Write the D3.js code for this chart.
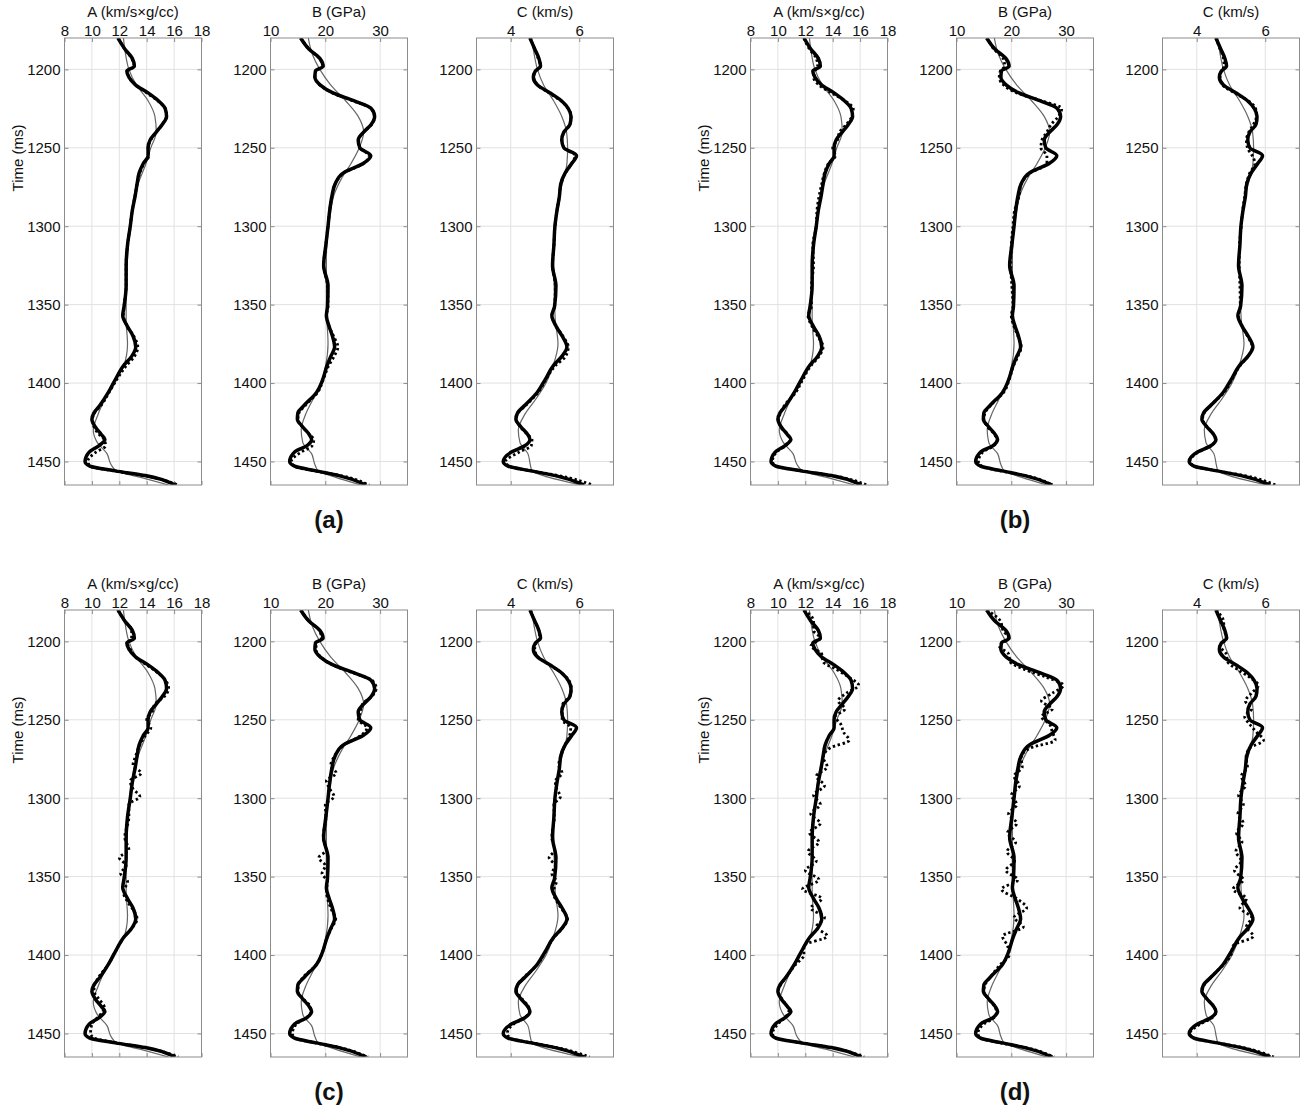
<!DOCTYPE html>
<html>
<head>
<meta charset="utf-8">
<script src="https://cdn.jsdelivr.net/npm/d3@7"></script>
<style>
  body { margin: 0; background: #fff; }
  svg text { font-family: "Liberation Sans", Arial, Helvetica, sans-serif; fill: #111; }
</style>
</head>
<body>
<svg id="chart" width="1307" height="1111"></svg>
<script>
// ---- axes ----
const timeDomain = [1180, 1465];
const timeTicks = [1200, 1250, 1300, 1350, 1400, 1450];
const domainA = [8, 18],  ticksA = [8, 10, 12, 14, 16, 18];
const domainB = [10, 35], ticksB = [10, 20, 30];
const domainC = [3, 7],   ticksC = [4, 6];
const titles = ["A (km/s×g/cc)", "B (GPa)", "C (km/s)"];
const groupLabels = ["(a)", "(b)", "(c)", "(d)"];

// ---- well log (reference) ----
const tTrue = [1180,1187,1193,1198,1201,1205,1210,1215,1220,1225,1230,1235,1240,1245,1250,1255,1260,1266,1273,1281,1290,1300,1312,1325,1338,1351,1357,1364,1370,1377,1383,1389,1398,1406,1414,1419,1423,1428,1433,1436,1440,1444,1450,1453,1456,1459,1465];
const trueA = [11.9,12.4,12.95,13.1,12.55,12.7,13.2,14.1,14.85,15.35,15.45,15.15,14.7,14.25,14.1,14.1,13.75,13.45,13.3,13.15,12.95,12.8,12.6,12.5,12.5,12.35,12.25,12.6,13.0,13.2,12.9,12.3,11.7,11.2,10.6,10.15,10.0,10.25,10.7,10.95,10.5,9.8,9.5,9.85,11.7,13.9,16.1];
const trueB = [15.5,17.0,19.0,19.6,18.2,18.1,19.1,21.4,25.2,28.4,29.0,28.4,27.0,26.0,26.3,28.3,26.9,23.3,21.8,21.2,20.8,20.5,20.1,19.7,20.5,20.4,20.2,20.7,21.3,21.7,21.0,20.3,19.5,18.4,16.2,15.0,14.9,15.9,17.1,17.5,16.6,14.4,13.5,14.4,18.3,22.5,27.5];
const trueC = [4.56,4.70,4.82,4.87,4.72,4.66,4.78,5.15,5.48,5.68,5.76,5.73,5.55,5.49,5.55,5.92,5.78,5.59,5.46,5.42,5.35,5.29,5.26,5.22,5.32,5.28,5.2,5.33,5.5,5.64,5.49,5.24,5.0,4.77,4.42,4.2,4.15,4.3,4.5,4.56,4.41,4.02,3.78,3.92,4.6,5.3,6.15];

// ---- initial (low-frequency) model ----
const tInit = [1180,1190,1200,1210,1220,1230,1240,1250,1260,1270,1280,1290,1300,1320,1340,1360,1375,1390,1400,1410,1420,1430,1438,1445,1452,1456,1460,1465];
const initA = [12.3,12.45,12.7,13.25,14.1,14.6,14.7,14.3,13.95,13.5,13.1,12.9,12.75,12.6,12.5,12.5,12.6,12.3,11.5,10.95,10.45,10.1,10.4,11.1,11.4,11.8,13.5,15.6];
const initB = [16.9,17.6,19.0,21.0,23.7,26.0,27.0,26.2,24.7,22.9,21.6,21.0,20.6,20.2,20.2,20.3,20.5,20.0,19.2,17.8,16.4,15.6,15.9,17.5,18.1,18.7,21.8,26.5];
const initC = [4.61,4.68,4.78,4.96,5.25,5.49,5.63,5.66,5.64,5.54,5.42,5.35,5.3,5.25,5.27,5.3,5.38,5.22,5.03,4.74,4.41,4.22,4.27,4.5,4.57,4.62,5.1,6.05];

// ---- inversion results ----
// (a)
const tInvA = tTrue;
const invA_a = [11.9,12.4,12.9,13.1,12.6,12.7,13.2,14.0,14.8,15.35,15.45,15.15,14.7,14.3,14.1,14.15,13.8,13.5,13.3,13.15,12.95,12.8,12.6,12.5,12.5,12.35,12.3,12.6,13.05,13.35,13.1,12.5,11.8,11.25,10.7,10.2,10.05,10.15,10.55,10.9,11.0,10.3,9.7,9.9,11.6,13.8,16.3];
const invB_a = [15.5,17.0,18.9,19.6,18.3,18.1,19.0,21.3,25.0,28.4,29.0,28.5,27.0,26.1,26.3,28.0,27.0,23.4,21.8,21.2,20.8,20.5,20.1,19.7,20.4,20.5,20.2,20.7,21.5,22.3,21.6,20.6,19.6,18.6,16.4,15.2,15.0,15.8,17.2,17.9,17.6,15.6,13.8,14.3,18.0,22.8,28.0];
const invC_a = [4.56,4.70,4.8,4.87,4.73,4.67,4.78,5.12,5.46,5.68,5.76,5.73,5.56,5.49,5.55,5.88,5.78,5.6,5.46,5.42,5.35,5.29,5.26,5.22,5.3,5.28,5.2,5.33,5.52,5.68,5.6,5.3,5.02,4.8,4.45,4.22,4.16,4.28,4.5,4.62,4.6,4.25,3.85,3.95,4.6,5.4,6.4];
// (b)
const tInvB = tTrue;
const invA_b = [11.9,12.3,12.8,12.9,12.7,12.6,13.0,13.9,14.9,15.5,15.4,15.0,14.5,14.35,14.0,14.2,13.7,13.4,13.2,13.0,12.85,12.8,12.55,12.6,12.45,12.45,12.2,12.5,12.9,13.3,13.0,12.4,11.8,11.3,10.5,10.2,10.05,10.2,10.75,10.9,10.55,9.9,9.6,9.9,11.7,14.0,16.5];
const invB_b = [15.6,16.8,18.5,18.8,18.0,17.8,18.6,21.0,25.5,29.2,28.6,27.3,26.5,25.6,25.4,26.5,26.5,23.5,21.8,21.4,20.6,20.3,20.0,19.9,20.1,20.3,20.0,20.5,21.2,21.8,21.2,20.4,19.6,18.6,16.3,15.2,15.0,15.7,17.0,17.4,16.8,14.8,14.0,14.6,18.0,22.6,27.5];
const invC_b = [4.56,4.68,4.78,4.8,4.72,4.68,4.76,5.1,5.5,5.72,5.74,5.66,5.52,5.45,5.48,5.62,5.7,5.55,5.45,5.4,5.34,5.3,5.25,5.24,5.26,5.27,5.22,5.33,5.48,5.62,5.5,5.26,5.02,4.8,4.42,4.22,4.17,4.3,4.5,4.54,4.42,4.05,3.8,3.93,4.6,5.4,6.3];
// (c)
const tInvC = [1180,1187,1193,1198,1201,1205,1210,1215,1220,1225,1230,1235,1240,1245,1250,1255,1260,1266,1273,1279,1284,1289,1294,1299,1304,1312,1325,1333,1338,1343,1348,1353,1360,1366,1371,1377,1383,1389,1398,1406,1414,1419,1423,1428,1433,1436,1440,1444,1450,1453,1456,1459,1465];
const invA_c = [11.9,12.4,12.9,12.9,12.6,12.8,13.2,14.0,14.8,15.4,15.6,15.3,14.6,14.4,14.0,14.3,13.9,13.5,13.2,13.0,13.6,12.8,13.0,13.5,12.7,12.7,12.4,12.7,12.0,12.5,12.1,12.6,12.3,12.6,13.0,13.3,12.9,12.3,11.7,11.2,10.5,10.2,10.15,10.5,10.9,10.8,10.4,10.0,9.9,10.2,11.8,13.9,16.3];
const invB_c = [15.6,17.0,18.9,19.3,18.4,18.3,19.2,21.3,25.0,28.6,29.3,28.5,26.8,26.4,26.0,27.6,26.5,23.4,21.7,21.0,22.0,20.2,20.8,21.6,20.0,20.1,19.6,20.2,18.8,20.0,19.4,20.4,20.2,20.6,21.1,21.9,21.1,20.3,19.5,18.4,16.0,15.1,15.0,16.0,17.3,17.4,16.5,14.7,14.0,14.5,18.2,22.6,27.8];
const invC_c = [4.57,4.7,4.82,4.84,4.74,4.7,4.8,5.13,5.48,5.7,5.77,5.72,5.52,5.5,5.5,5.75,5.72,5.58,5.46,5.4,5.5,5.3,5.34,5.45,5.26,5.27,5.2,5.28,5.12,5.3,5.2,5.33,5.24,5.35,5.5,5.66,5.5,5.25,5.01,4.78,4.4,4.2,4.17,4.33,4.52,4.55,4.4,4.08,3.9,3.98,4.62,5.35,6.3];
// (d)
const tInvD = [1180,1187,1193,1198,1203,1208,1213,1218,1223,1228,1233,1238,1243,1248,1253,1258,1263,1268,1274,1280,1286,1292,1298,1304,1310,1316,1322,1328,1334,1340,1346,1352,1358,1364,1370,1376,1382,1388,1394,1400,1406,1414,1419,1423,1428,1433,1436,1440,1444,1450,1453,1456,1459,1465];
const invA_d = [11.9,12.6,12.6,13.1,12.4,13.2,13.3,14.3,15.2,15.9,15.0,14.4,14.9,14.2,14.6,14.8,15.2,13.8,13.3,13.6,12.8,13.4,12.6,13.1,12.4,13.1,12.3,13.0,12.2,12.8,12.0,13.0,11.8,13.2,12.4,13.4,12.8,13.6,11.9,11.9,11.3,10.6,10.2,10.0,10.3,10.7,10.8,10.5,10.0,9.6,9.9,11.7,13.9,16.3];
const invB_d = [15.5,18.0,18.5,19.5,17.8,19.5,19.8,22.5,26.5,29.5,27.5,25.5,27.5,25.5,27.0,27.5,28.0,23.5,21.8,22.0,20.5,21.5,20.0,21.0,19.5,21.0,19.3,20.8,19.2,20.6,19.0,21.2,18.2,21.0,22.8,20.5,22.2,18.4,19.3,19.6,18.0,16.2,15.2,15.0,15.8,17.0,17.3,16.8,15.0,13.9,14.4,18.0,22.6,27.8];
const invC_d = [4.56,4.78,4.8,4.88,4.68,4.86,4.9,5.2,5.55,5.8,5.6,5.42,5.6,5.4,5.55,5.75,5.95,5.55,5.44,5.48,5.3,5.42,5.22,5.36,5.2,5.36,5.16,5.32,5.14,5.3,5.1,5.36,5.06,5.45,5.26,5.6,5.45,5.65,5.06,5.0,4.78,4.42,4.22,4.16,4.3,4.5,4.56,4.45,4.1,3.8,3.93,4.6,5.35,6.25];

// ---- layout ----
const groupOffsetX = [0, 686, 0, 686];
const groupOffsetY = [0, 0, 572, 572];
const panelLeft0 = 64.5, panelW = 137, panelStep = 206;
const panelTop0 = 38, panelH = 447;

const panels = [
  { domain: domainA, ticks: ticksA, title: titles[0], init: initA, truth: trueA },
  { domain: domainB, ticks: ticksB, title: titles[1], init: initB, truth: trueB },
  { domain: domainC, ticks: ticksC, title: titles[2], init: initC, truth: trueC }
];
const inversions = [
  { t: tInvA, v: [invA_a, invB_a, invC_a] },
  { t: tInvB, v: [invA_b, invB_b, invC_b] },
  { t: tInvC, v: [invA_c, invB_c, invC_c] },
  { t: tInvD, v: [invA_d, invB_d, invC_d] }
];

const zip = (t, v) => t.map((ti, i) => ({ t: ti, v: v[i] }));

const svg = d3.select("#chart");
const frameColor = "#8c8c8c", gridColor = "#e1e1e1";
const fmt = d3.format("d");

groupLabels.forEach((label, gi) => {
  const ox = groupOffsetX[gi], oy = groupOffsetY[gi];
  const top = panelTop0 + oy, bottom = top + panelH;
  const y = d3.scaleLinear().domain(timeDomain).range([top, bottom]);

  panels.forEach((p, pi) => {
    const left = panelLeft0 + ox + pi * panelStep, right = left + panelW;
    const x = d3.scaleLinear().domain(p.domain).range([left, right]);
    const g = svg.append("g");
    const clipId = `clip-${gi}-${pi}`;
    svg.append("clipPath").attr("id", clipId)
      .append("rect").attr("x", left).attr("y", top).attr("width", panelW).attr("height", panelH);

    // grid
    g.append("g").selectAll("line").data(p.ticks.filter(v => v > p.domain[0] && v < p.domain[1]))
      .join("line")
      .attr("x1", d => x(d)).attr("x2", d => x(d)).attr("y1", top).attr("y2", bottom)
      .attr("stroke", gridColor).attr("stroke-width", 1);
    g.append("g").selectAll("line").data(timeTicks)
      .join("line")
      .attr("x1", left).attr("x2", right).attr("y1", d => y(d)).attr("y2", d => y(d))
      .attr("stroke", gridColor).attr("stroke-width", 1);

    // axes with inward ticks
    const styleAxis = sel => {
      sel.select(".domain").remove();
      sel.selectAll(".tick line").attr("stroke", frameColor);
      sel.selectAll(".tick text").attr("font-size", 15).attr("fill", "#111")
        .attr("font-family", '"Liberation Sans", Arial, sans-serif');
    };
    g.append("g").attr("transform", `translate(${left},0)`)
      .call(d3.axisLeft(y).tickValues(timeTicks).tickSize(-4).tickPadding(4).tickFormat(fmt)).call(styleAxis);
    g.append("g").attr("transform", `translate(${right},0)`)
      .call(d3.axisRight(y).tickValues(timeTicks).tickSize(-4).tickFormat("")).call(styleAxis);
    g.append("g").attr("transform", `translate(0,${top})`)
      .call(d3.axisTop(x).tickValues(p.ticks).tickSize(-4).tickPadding(2).tickFormat(fmt)).call(styleAxis);
    g.append("g").attr("transform", `translate(0,${bottom})`)
      .call(d3.axisBottom(x).tickValues(p.ticks).tickSize(-4).tickFormat("")).call(styleAxis);

    // curves: initial model, well log, inversion
    const line = d3.line().x(d => x(d.v)).y(d => y(d.t)).curve(d3.curveMonotoneY);
    const curves = g.append("g").attr("clip-path", `url(#${clipId})`);
    curves.append("path").datum(zip(tInit, p.init)).attr("d", line)
      .attr("fill", "none").attr("stroke", "#666").attr("stroke-width", 1.2);
    curves.append("path").datum(zip(tTrue, p.truth)).attr("d", line)
      .attr("fill", "none").attr("stroke", "#000").attr("stroke-width", 3.5)
      .attr("stroke-linejoin", "round");
    const inv = inversions[gi];
    curves.append("path").datum(zip(inv.t, inv.v[pi])).attr("d", line)
      .attr("fill", "none").attr("stroke", "#000").attr("stroke-width", 2.8)
      .attr("stroke-dasharray", "2.4 2.6");

    // frame
    g.append("rect").attr("x", left).attr("y", top).attr("width", panelW).attr("height", panelH)
      .attr("fill", "none").attr("stroke", frameColor).attr("stroke-width", 1);

    // title
    g.append("text").attr("x", (left + right) / 2).attr("y", top - 21)
      .attr("text-anchor", "middle").attr("font-size", 15).text(p.title);
  });

  // y-axis label
  svg.append("text")
    .attr("transform", `translate(${ox + 23},${oy + 158}) rotate(-90)`)
    .attr("text-anchor", "middle").attr("font-size", 15).text("Time (ms)");

  // group label
  svg.append("text").attr("x", ox + 329).attr("y", oy + 528)
    .attr("text-anchor", "middle").attr("font-size", 24).attr("font-weight", "bold")
    .text(label);
});
</script>
</body>
</html>
